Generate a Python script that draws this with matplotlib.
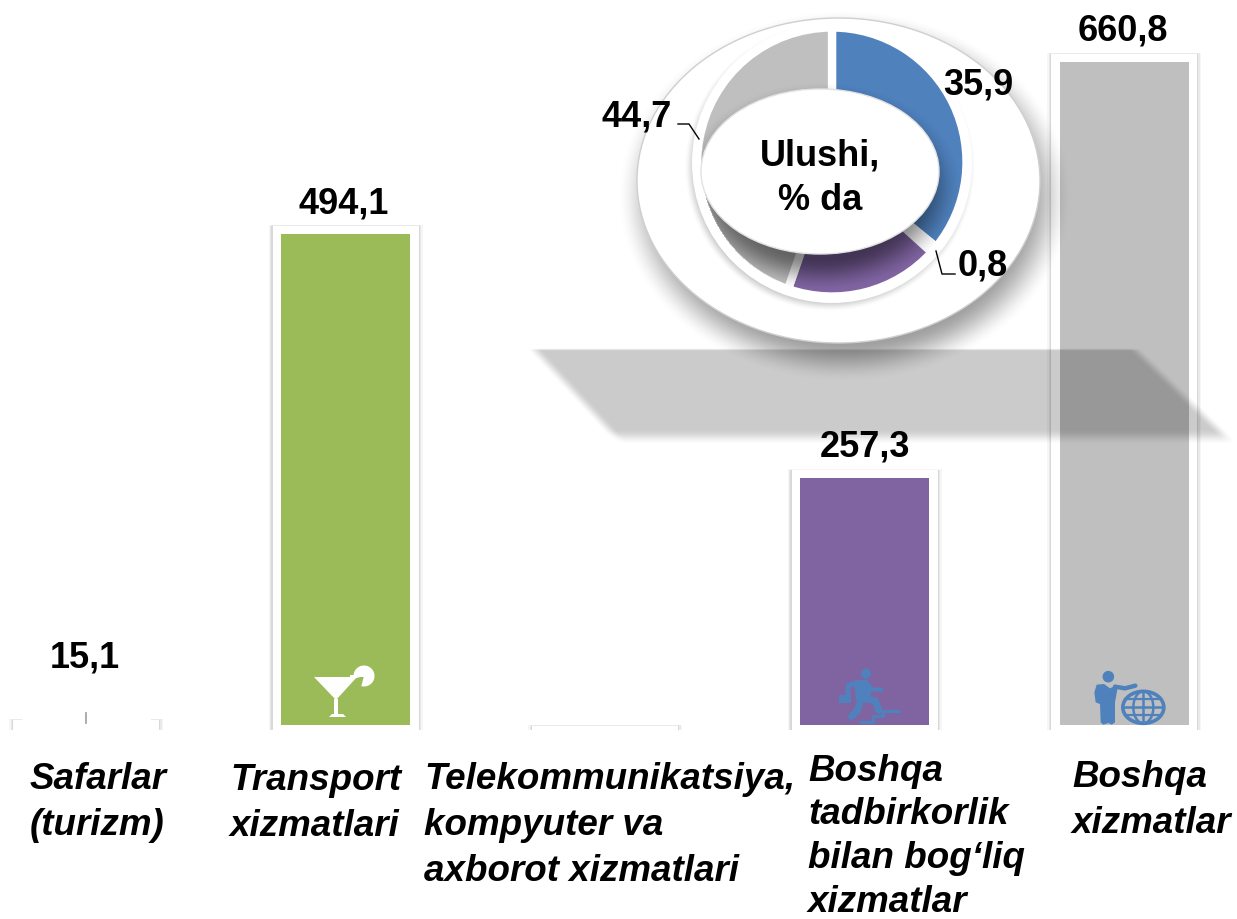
import numpy as np
import matplotlib
matplotlib.use("Agg")
import matplotlib.pyplot as plt
from matplotlib.patches import Ellipse, Polygon, Rectangle, Wedge, Circle

# ---------------- data ----------------
categories = ["Safarlar\n(turizm)", "Transport\nxizmatlari",
              "Telekommunikatsiya,\nkompyuter va\naxborot xizmatlari",
              "Boshqa\ntadbirkorlik\nbilan bog\u2018liq\nxizmatlar",
              "Boshqa\nxizmatlar"]
bar_heights = [12, 489.5, 0, 246, 660.8]      # heights as drawn in the picture
bar_labels = ["15,1", "494,1", "", "257,3", "660,8"]
bar_colors = ["#ffffff", "#9bbb59", "#ffffff", "#8064a2", "#bfbfbf"]
share_values = [35.9, 0.8, 18.6, 44.7]
share_colors = ["#4f81bd", "#d9d9d9", "#8064a2", "#bfbfbf"]
share_labels = ["35,9", "0,8", "", "44,7"]

W, H = 1237, 920
plt.rcParams["font.family"] = ["Liberation Sans", "DejaVu Sans"]
fig = plt.figure(figsize=(W / 100, H / 100), dpi=100, facecolor="white")

BASE_Y, K, STEP, X0 = 726.0, 663.0 / 660.8, 259.5, 86.0
FS = 26

# ---------------- bars ----------------
ax = fig.add_axes([0, 0, 1, 1], zorder=1)
ax.set_xlim(-X0 / STEP, (W - X0) / STEP)
ax.set_ylim(-(H - BASE_Y) / K, BASE_Y / K)
ax.axis("off")
xs = np.arange(len(categories))
frame_bottom = -5.0 / K
frame_margin = [-7, 8, -1, 8, 8]
frame_h = [h + (5.0 + m) / K for h, m in zip(bar_heights, frame_margin)]
for grow, alpha in ((4, 0.07), (2.5, 0.10), (1.2, 0.16)):
    ax.bar(xs, [f + grow * 0.25 / K for f in frame_h], width=(146 + 2 * grow) / STEP,
           bottom=frame_bottom, color="#808080", alpha=alpha, linewidth=0, zorder=1)
ax.bar(xs, frame_h, width=146 / STEP, bottom=frame_bottom, color="white", linewidth=0, zorder=2)
ax.bar(xs, bar_heights, width=129 / STEP, color=bar_colors, linewidth=0, zorder=3)
ax.plot([0, 0], [2.0 / K, 12.0 / K], color="#a6a6a6", lw=1.3, zorder=4)

# ---------------- pixel overlays ----------------
def overlay(z):
    a = fig.add_axes([0, 0, 1, 1], zorder=z)
    a.patch.set_alpha(0)
    a.axis("off")
    return a

def finish(a):
    a.set_xlim(0, W)
    a.set_ylim(H, 0)

yy, xx = np.mgrid[0:H, 0:W] + 0.5

def soft(a, alpha, z=1):
    img = np.zeros((H, W, 4))
    img[..., 3] = np.clip(alpha, 0, 1)
    a.imshow(img, extent=(0, W, H, 0), aspect="auto", interpolation="bilinear", zorder=z)

def ell_alpha(cx, cy, rx, ry, blur, peak):
    d = np.sqrt(((xx - cx) / rx) ** 2 + ((yy - cy) / ry) ** 2)
    px = (1 - d) * min(rx, ry)
    t = np.clip(px / blur + 0.5, 0, 1)
    return peak * t * t * (3 - 2 * t)

def sstep(v):
    t = np.clip(v, 0, 1)
    return t * t * (3 - 2 * t)

back = overlay(2)
# slanted floor shadow
slope_l = (612 - 530) / (438 - 350)
slope_r = (1228 - 1137) / (438 - 350)
edge_top = sstep((yy - 349) / 3)
edge_bot = sstep((446 - yy) / 16)
edge_l = sstep((xx - (526 + slope_l * (yy - 350))) * 0.73 / 12)
edge_r = sstep(((1143 + slope_r * (yy - 350)) - xx) * 0.73 / 12)
soft(back, 0.205 * edge_top * edge_bot * edge_l * edge_r)
# disc shadow
soft(back, ell_alpha(845, 197, 203, 166, 42, 0.38), 2)
back.add_patch(Ellipse((838.5, 181.5), 403, 325, fc="white", ec="#cfcfcf", lw=1, zorder=3))
# ring
soft(back, ell_alpha(830, 168, 139, 138, 14, 0.25), 4)
back.add_patch(Circle((832, 164), 140, fc="white", ec="none", zorder=5))
finish(back)

# ---------------- donut ----------------
R = 134.5
pie_ax = fig.add_axes([(832 - R) / W, 1 - (163 + R) / H, 2 * R / W, 2 * R / H], zorder=3)
pie_ax.pie(share_values, colors=share_colors, startangle=90, counterclock=False, radius=1,
           wedgeprops=dict(edgecolor="white", linewidth=6))
pie_ax.set_xlim(-1, 1)
pie_ax.set_ylim(-1, 1)
pie_ax.patch.set_alpha(0)

# ---------------- top layer ----------------
top = overlay(4)
ring_mask = np.hypot(xx - 832, yy - 163) < 131
soft(top, ell_alpha(821, 188, 118, 88, 36, 0.48) * ring_mask)
top.add_patch(Ellipse((820, 172.5), 238, 165, fc="white", ec="#e2e2e2", lw=1, zorder=3))

lab_pos = [(85, 658), (344, 204), (605, 700), (865, 447), (1123, 31)]
for (x, y), lab in zip(lab_pos, bar_labels):
    if lab:
        top.text(x, y, lab, fontsize=FS, fontweight="bold", ha="center", va="center", color="black", zorder=6)
share_pos = [(978, 85), (983, 266), (0, 0), (637, 117)]
for (x, y), lab in zip(share_pos, share_labels):
    if lab:
        top.text(x, y, lab, fontsize=FS, fontweight="bold", ha="center", va="center", color="black", zorder=6)
top.text(820, 156, "Ulushi,", fontsize=FS, fontweight="bold", ha="center", va="center", zorder=6)
top.text(820, 200, "% da", fontsize=FS, fontweight="bold", ha="center", va="center", zorder=6)
top.plot([678, 689, 699], [125, 125, 140], color="black", lw=1, zorder=6)
top.plot([936, 942, 955], [252, 275, 275], color="black", lw=1, zorder=6)

# x, baseline of the last line, line spacing
cat_pos = [(30, 835, 1.40), (230, 836, 1.40), (424, 881, 1.40), (808, 912, 1.327), (1072, 833, 1.39)]
for (x, y, ls), lab in zip(cat_pos, categories):
    top.text(x, y, lab, fontsize=26.5, fontweight="bold", fontstyle="italic", ha="left", va="baseline",
             linespacing=ls, color="black", zorder=6)

# ---------------- icons ----------------
WHITE = "white"
top.add_patch(Polygon([(314, 678), (357, 678), (336, 701)], fc=WHITE, ec="none", zorder=5))
top.add_patch(Rectangle((334, 700), 3.5, 16, fc=WHITE, ec="none", zorder=5))
top.add_patch(Polygon([(329, 718), (346, 718), (343, 715), (332, 715)], fc=WHITE, ec="none", zorder=5))
top.add_patch(Wedge((364, 677), 10.5, 165, 465, fc=WHITE, ec="none", zorder=5))
top.plot([351, 364], [676.5, 676.5], color=WHITE, lw=1.4, zorder=5)

BLUE = "#4f81bd"
def z3(p):
    return [(780 + a / 3.0, 640 + b / 3.0) for a, b in p]
def zl(p, lw):
    q = np.array(z3(p))
    top.plot(q[:, 0], q[:, 1], color=BLUE, lw=lw, solid_capstyle="round", solid_joinstyle="round", zorder=5)

# runner
top.add_patch(Circle(z3([(258, 104)])[0], 5, fc=BLUE, ec="none", zorder=5))
top.add_patch(Polygon(z3([(222, 125), (262, 122), (275, 150), (268, 190), (228, 185)]), fc=BLUE, ec="none", zorder=5))
zl([(232, 130), (205, 140), (203, 170)], 3.6)
zl([(262, 135), (278, 152), (305, 152)], 3.0)
zl([(240, 178), (285, 185), (297, 215)], 5)
zl([(240, 190), (232, 215), (215, 232)], 5)
top.add_patch(Rectangle(z3([(178, 168)])[0], 12, 8, fc=BLUE, ec="none", zorder=5))
zl([(240, 250), (278, 250), (278, 232), (310, 232), (310, 216), (358, 216)], 2.2)

# businessman & globe
top.add_patch(Circle(z3([(985, 113)])[0], 5.8, fc=BLUE, ec="none", zorder=5))
top.add_patch(Polygon(z3([(950, 137), (972, 135), (990, 148), (1010, 138), (1012, 152), (1005, 190), (1005, 250),
                          (995, 257), (985, 252), (970, 257), (962, 250), (960, 195), (947, 190), (943, 160)]),
                      fc=BLUE, ec="none", zorder=5))
zl([(1005, 143), (1035, 148), (1066, 140)], 3.2)
gc = z3([(1090, 205)])[0]
top.add_patch(Ellipse(gc, 41, 32, fc="none", ec=BLUE, lw=2.6, zorder=5))
top.add_patch(Ellipse(gc, 20, 32, fc="none", ec=BLUE, lw=1.8, zorder=5))
top.plot([gc[0], gc[0]], [gc[1] - 16, gc[1] + 16], color=BLUE, lw=1.8, zorder=5)
top.plot([gc[0] - 20, gc[0] + 20], [gc[1], gc[1]], color=BLUE, lw=1.8, zorder=5)
top.plot([gc[0] - 18, gc[0] + 18], [gc[1] - 8, gc[1] - 8], color=BLUE, lw=1.6, zorder=5)
top.plot([gc[0] - 18, gc[0] + 18], [gc[1] + 8, gc[1] + 8], color=BLUE, lw=1.6, zorder=5)

finish(top)
fig.savefig("out.png", dpi=100, facecolor="white")
